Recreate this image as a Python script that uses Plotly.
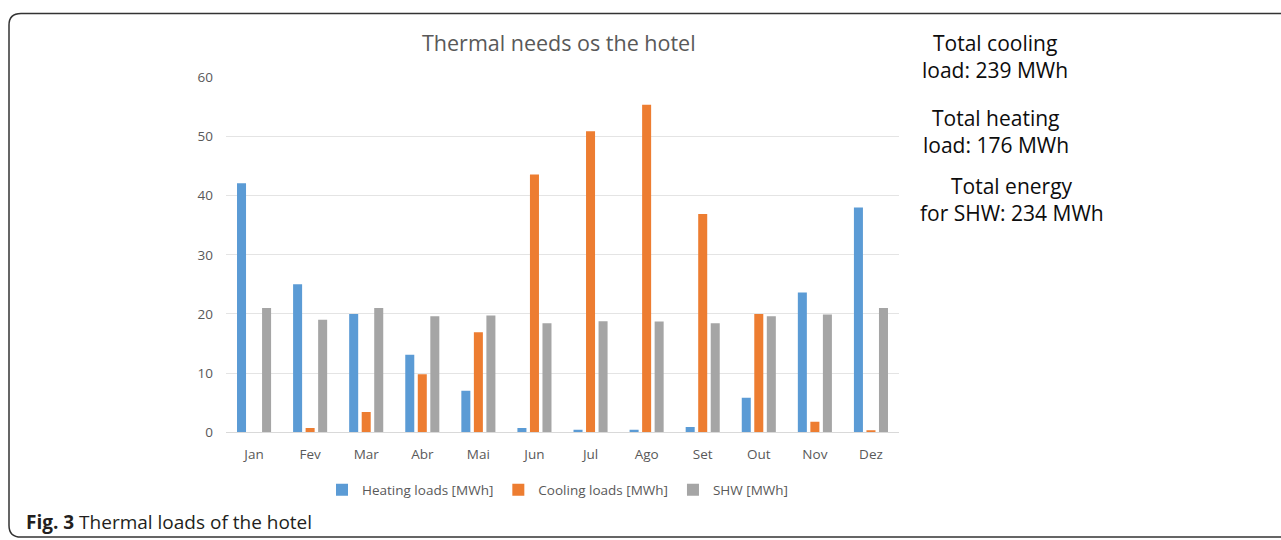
import plotly.graph_objects as go

months = ["Jan", "Fev", "Mar", "Abr", "Mai", "Jun", "Jul", "Ago", "Set", "Out", "Nov", "Dez"]
heating = [42.1, 25.0, 20.0, 13.1, 7.0, 0.7, 0.4, 0.4, 0.85, 5.8, 23.6, 38.0]
cooling = [0.0, 0.7, 3.4, 9.8, 16.9, 43.6, 50.9, 55.4, 36.9, 20.0, 1.75, 0.3]
shw = [21.0, 19.0, 21.0, 19.6, 19.75, 18.4, 18.75, 18.7, 18.4, 19.6, 19.9, 21.0]

series_names = ["Heating loads [MWh]", "Cooling loads [MWh]", "SHW [MWh]"]
colors = ["#5b9bd5", "#ed7d31", "#a5a5a5"]

# observed vertical mapping of page rows onto the photograph: out = OY + SY * y
OY, SY = 8.5, 0.968
W, H = 1281, 548

fig = go.Figure()
for name, vals, c in zip(series_names, [heating, cooling, shw], colors):
    fig.add_trace(go.Bar(x=months, y=vals, name=name, marker_color=c, marker_line_width=0))

def px(x):
    return x / W

def py(y):
    return 1 - ((y - OY) / SY) / H

# rounded border box (paper coords)
x0, x1 = px(9), px(1300)
yt, yb = py(13), max(py(537), 0.002)
rx, ry = 12 / W, 12 / H
path = (f"M {x0+rx},{yt} L {x1},{yt} L {x1},{yb} L {x0+rx},{yb} "
        f"Q {x0},{yb} {x0},{yb+ry} L {x0},{yt-ry} Q {x0},{yt} {x0+rx},{yt} Z")

font = "Open Sans, Liberation Sans, sans-serif"

fig.update_layout(
    width=W, height=H,
    margin=dict(l=0, r=0, t=0, b=0),
    paper_bgcolor="white", plot_bgcolor="white",
    barmode="group", bargap=0.33, bargroupgap=0.28,
    font=dict(family=font, color="#595959"),
    showlegend=True,
    legend=dict(orientation="h", x=px(558), xanchor="center", y=py(490), yanchor="middle",
                font=dict(size=13.5, color="#595959"), tracegroupgap=0,
                bgcolor="rgba(0,0,0,0)"),
    xaxis=dict(domain=[px(226), px(899)], showgrid=False, showline=True, linecolor="#d9d9d9",
               linewidth=1, tickfont=dict(size=13.5, color="#595959"), ticklabelstandoff=10),
    yaxis=dict(domain=[py(432), py(77)], range=[0, 60], dtick=10, showgrid=True,
               gridcolor="#e4e4e4", gridwidth=1, zeroline=False, showline=False,
               tickfont=dict(size=13.5, color="#595959"), ticklabelstandoff=12),
    shapes=[dict(type="path", path=path, xref="paper", yref="paper",
                 line=dict(color="#333333", width=1.5), fillcolor="rgba(0,0,0,0)", layer="below")],
)

annotations = [
    dict(text="Thermal needs os the hotel", x=px(559), y=py(42), size=21.5, color="#595959"),
    dict(text="Total cooling", x=px(995), y=py(43), size=21, color="#0d0d0d"),
    dict(text="load: 239 MWh", x=px(995), y=py(70), size=21, color="#0d0d0d"),
    dict(text="Total heating", x=px(996), y=py(118), size=21, color="#0d0d0d"),
    dict(text="load: 176 MWh", x=px(996), y=py(145), size=21, color="#0d0d0d"),
    dict(text="Total energy", x=px(1012), y=py(186), size=21, color="#0d0d0d"),
    dict(text="for SHW: 234 MWh", x=px(1012), y=py(213), size=21, color="#0d0d0d"),
]
for a in annotations:
    fig.add_annotation(text=a["text"], x=a["x"], y=a["y"], xref="paper", yref="paper",
                       xanchor="center", yanchor="middle", showarrow=False,
                       font=dict(family=font, size=a["size"], color=a["color"]))

fig.add_annotation(text="<b>Fig. 3</b> Thermal loads of the hotel", x=px(24), y=py(522),
                   xref="paper", yref="paper", xanchor="left", yanchor="middle", showarrow=False,
                   font=dict(family=font, size=19, color="#231f20"))

fig.write_html(
    "out.html",
    config={"displayModeBar": False},
    post_script=("document.body.style.margin='0';"
                 "document.body.style.overflow='hidden';"
                 "document.documentElement.style.overflow='hidden';"),
)
